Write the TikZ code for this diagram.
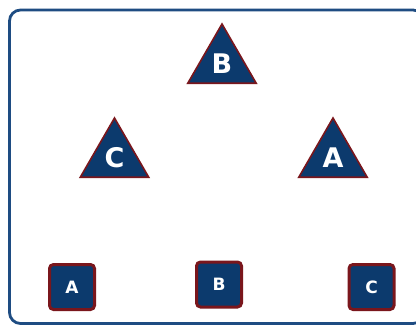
\documentclass[tikz,border=0pt]{standalone}
\usepackage{fontspec}
\setmainfont{DejaVu Sans}
\usetikzlibrary{shapes.geometric}
\definecolor{navy}{HTML}{0C3A6D}
\definecolor{darkred}{HTML}{7A161C}
\definecolor{framec}{HTML}{1E4C82}
\tikzset{
  tri/.style={regular polygon, regular polygon sides=3, minimum size=79pt, inner sep=0pt,
    fill=navy, draw=darkred, line width=1.6pt, text=white, font=\bfseries\fontsize{27}{27}\selectfont},
  sq/.style={rectangle, rounded corners=4pt, minimum size=45pt, inner sep=0pt,
    fill=navy, draw=darkred, line width=3pt, text=white, font=\bfseries\fontsize{17}{17}\selectfont}
}
\begin{document}
\begin{tikzpicture}[x=1pt,y=-1pt]
\useasboundingbox (0,0) rectangle (416,327);
\clip (0,0) rectangle (416,327);
\fill[white] (0,0) rectangle (416,327);
\draw[framec, line width=2.8pt, rounded corners=11pt] (9.5,10) rectangle (424,323.5);
\node[tri] (tB) at (222,63.5) {B};
\node[tri] (tC) at (114.5,157.5) {C};
\node[tri] (tA) at (333,157.5) {A};
\node[sq] (sA) at (72,287) {A};
\node[sq] (sB) at (219,284.5) {B};
\node[sq] (sC) at (371.5,287) {C};
\end{tikzpicture}
\end{document}
